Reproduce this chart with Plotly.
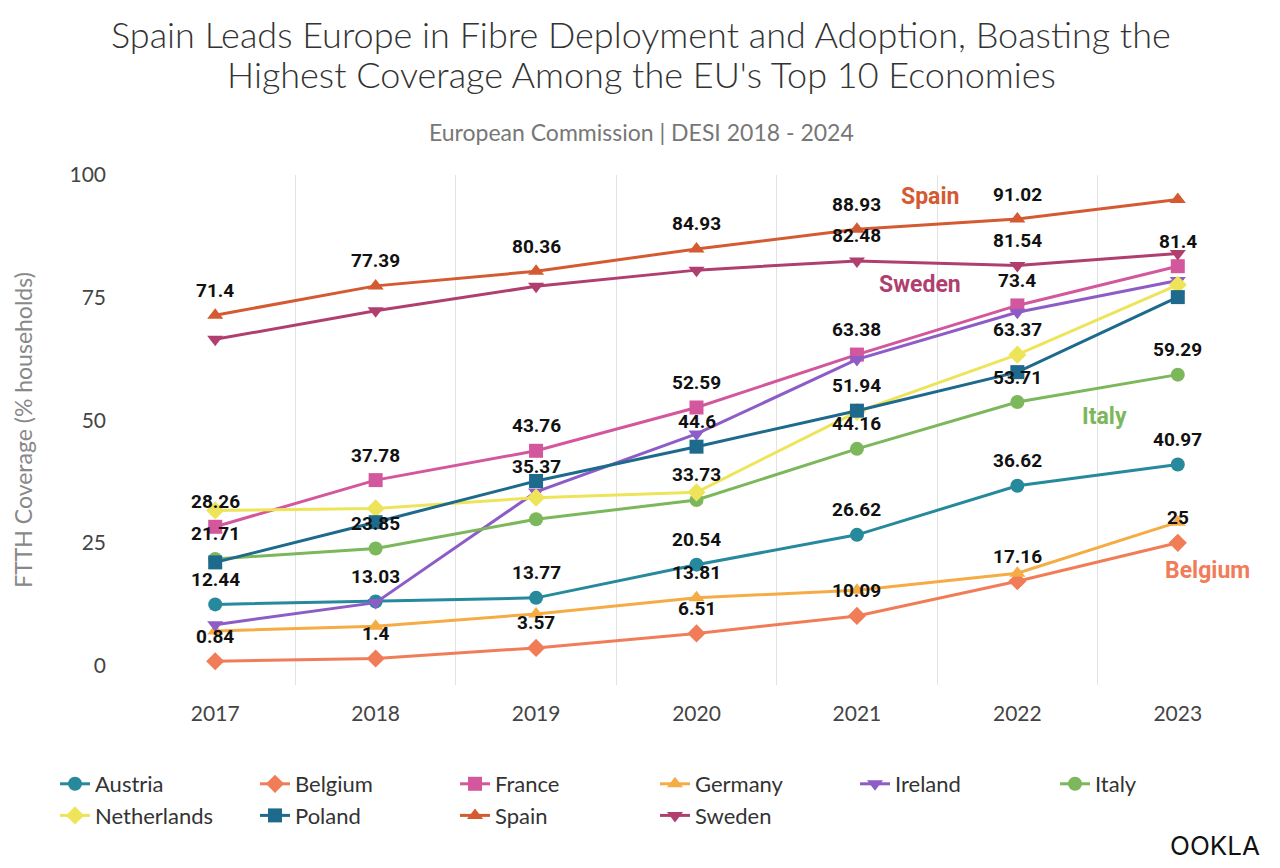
import plotly.graph_objects as go

years = [2017, 2018, 2019, 2020, 2021, 2022, 2023]

austria = [12.44, 13.03, 13.77, 20.54, 26.62, 36.62, 40.97]
belgium = [0.84, 1.4, 3.57, 6.51, 10.09, 17.16, 25]
france = [28.26, 37.78, 43.76, 52.59, 63.38, 73.4, 81.4]
germany = [7.0, 8.0, 10.5, 13.81, 15.3, 18.8, 29.2]
ireland = [8.3, 12.8, 35.37, 47.2, 62.4, 72.0, 78.5]
italy = [21.71, 23.85, 29.8, 33.73, 44.16, 53.71, 59.29]
netherlands = [31.6, 32.0, 34.2, 35.3, 51.7, 63.37, 77.6]
poland = [21.0, 29.2, 37.6, 44.6, 51.94, 59.8, 75.1]
spain = [71.4, 77.39, 80.36, 84.93, 88.93, 91.02, 95.0]
sweden = [66.5, 72.3, 77.3, 80.6, 82.48, 81.54, 84.0]

# years whose value label is shown
austria_lab = [2017, 2018, 2019, 2020, 2021, 2022, 2023]
belgium_lab = [2017, 2018, 2019, 2020, 2021, 2022, 2023]
france_lab = [2017, 2018, 2019, 2020, 2021, 2022, 2023]
germany_lab = [2020]
ireland_lab = [2019]
italy_lab = [2017, 2018, 2020, 2021, 2022, 2023]
netherlands_lab = [2022]
poland_lab = [2020, 2021]
spain_lab = [2017, 2018, 2019, 2020, 2021, 2022]
sweden_lab = [2021, 2022]

series = [
    ("Austria", austria, austria_lab, "#26899c", "circle"),
    ("Belgium", belgium, belgium_lab, "#f07d57", "diamond"),
    ("France", france, france_lab, "#d3579d", "square"),
    ("Germany", germany, germany_lab, "#f5ac45", "triangle-up"),
    ("Ireland", ireland, ireland_lab, "#8e5cc7", "triangle-down"),
    ("Italy", italy, italy_lab, "#7cb75b", "circle"),
    ("Netherlands", netherlands, netherlands_lab, "#eee45a", "diamond"),
    ("Poland", poland, poland_lab, "#1e6a8c", "square"),
    ("Spain", spain, spain_lab, "#d45a32", "triangle-up"),
    ("Sweden", sweden, sweden_lab, "#b03f6f", "triangle-down"),
]

# the page body adds an 8px margin, so lay out in a slightly smaller figure
OFF = 8
FW, FH = 1264, 852
PL, PR, PT, PB = 135 - OFF, 1258 - OFF, 175 - OFF, 685 - OFF
PW, PH = PR - PL, PB - PT


def px(x):
    return (x - OFF - PL) / PW


def py(y):
    return (PB - (y - OFF)) / PH


fig = go.Figure()
annotations = []
for name, vals, labs, color, sym in series:
    fig.add_trace(go.Scatter(
        x=years, y=vals, name=name, mode="lines+markers",
        line=dict(color=color, width=3),
        marker=dict(symbol=sym, size=14, color=color),
    ))
    for yr, v in zip(years, vals):
        if yr in labs:
            annotations.append(dict(
                x=yr, y=v, xref="x", yref="y", text=f"{v:g}", showarrow=False,
                yshift=25, font=dict(family="Roboto", size=19, color="#111111", weight="bold"),
            ))

# series name callouts
callouts = [
    ("Spain", spain, 4, 73, 33, "#d45a32"),
    ("Sweden", sweden, 4, 63, -24, "#b03f6f"),
    ("Italy", italy, 5, 87, -14, "#7cb75b"),
    ("Belgium", belgium, 6, 30, -28, "#f07d57"),
]
for txt, vals, i, xs, ys, color in callouts:
    annotations.append(dict(
        x=years[i], y=vals[i], xref="x", yref="y", text=txt, showarrow=False,
        xshift=xs, yshift=ys, font=dict(family="Roboto", size=23, color=color, weight="bold"),
    ))

title_lines = [
    ("Spain Leads Europe in Fibre Deployment and Adoption, Boasting the", 34),
    ("Highest Coverage Among the EU's Top 10 Economies", 74),
]
for txt, yy in title_lines:
    annotations.append(dict(
        x=px(641), y=py(yy), xref="paper", yref="paper",
        xanchor="center", yanchor="middle", text=txt, showarrow=False,
        font=dict(family="Lato", size=36, color="#333333", weight=300),
    ))

annotations.append(dict(
    x=px(641), y=py(132), xref="paper", yref="paper",
    xanchor="center", yanchor="middle",
    text="European Commission | DESI 2018 - 2024", showarrow=False,
    font=dict(family="Lato", size=23, color="#777777"),
))
annotations.append(dict(
    x=px(1262), y=py(845), xref="paper", yref="paper",
    xanchor="right", yanchor="middle", text="OOKLA", showarrow=False,
    font=dict(family="Inter", size=26, color="#111111"),
))

fig.update_layout(
    width=FW, height=FH,
    paper_bgcolor="white", plot_bgcolor="white",
    margin=dict(l=PL, r=FW - PR, t=PT, b=FH - PB, autoexpand=False),
    font=dict(family="Lato", color="#444444"),
    xaxis=dict(
        range=[2016.5, 2023.5], tickvals=years, showgrid=False, zeroline=False,
        showline=False, ticks="", ticklabelstandoff=14,
        tickfont=dict(size=21, color="#444444"),
        minor=dict(tick0=2016.5, dtick=1, showgrid=True, gridcolor="#e3e3e3", gridwidth=1),
    ),
    yaxis=dict(
        range=[-4, 100], tickvals=[0, 25, 50, 75, 100], showgrid=False, zeroline=False,
        showline=False, ticks="", ticklabelstandoff=28,
        tickfont=dict(size=21, color="#444444"),
        title=dict(text="FTTH Coverage (% households)", standoff=30,
                   font=dict(size=23, color="#888888")),
    ),
    showlegend=True,
    legend=dict(
        orientation="h", xref="paper", yref="paper",
        x=px(55), y=py(763), xanchor="left", yanchor="top",
        entrywidth=155, entrywidthmode="pixels",
        font=dict(family="Lato", size=22, color="#333333"),
        traceorder="normal",
    ),
    annotations=annotations,
)

fig.write_html("out.html")
